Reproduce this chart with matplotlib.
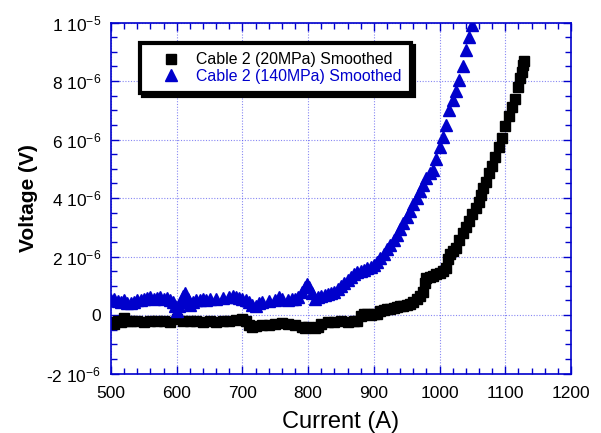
import matplotlib
matplotlib.use("Agg")
import matplotlib.pyplot as plt
from matplotlib.ticker import MultipleLocator, FixedLocator

plt.rcParams['font.family'] = ['Liberation Sans', 'DejaVu Sans']
plt.rcParams['mathtext.fontset'] = 'custom'
plt.rcParams['mathtext.rm'] = 'Liberation Sans'
plt.rcParams['mathtext.it'] = 'Liberation Sans'

# Cable 2 (20MPa) - corrente (A) e tensao (uV)
i_20 = [500, 505, 510, 515, 520, 525, 530, 540, 550, 560, 570, 580, 590, 600, 610, 620,
        630, 640, 650, 660, 670, 680, 690, 700, 705, 710, 715, 720, 730, 740, 750, 760,
        770, 780, 790, 795, 800, 810, 815, 820, 830, 840, 850, 860, 870, 875, 880, 885,
        890, 895, 900, 905, 910, 915, 920, 925, 930, 935, 940, 945, 950, 955, 960, 965,
        970, 975, 978, 980, 985, 990, 995, 1000, 1005, 1010, 1013, 1016, 1020, 1025, 1030,
        1035, 1040, 1045, 1050, 1055, 1060, 1063, 1066, 1070, 1075, 1080, 1085, 1090, 1095,
        1100, 1105, 1110, 1115, 1120, 1123, 1125, 1127, 1128]
v_20 = [-0.25, -0.3, -0.2, -0.25, -0.1, -0.2, -0.22, -0.2, -0.25, -0.2, -0.22, -0.2, -0.25,
        -0.15, -0.2, -0.22, -0.2, -0.25, -0.2, -0.25, -0.22, -0.2, -0.18, -0.15, -0.2, -0.35,
        -0.42, -0.38, -0.35, -0.35, -0.32, -0.28, -0.3, -0.35, -0.4, -0.45, -0.42, -0.45, -0.4,
        -0.3, -0.25, -0.25, -0.22, -0.25, -0.22, -0.2, -0.05, 0.05, 0.05, 0.0, 0.02, 0.05, 0.12,
        0.18, 0.2, 0.22, 0.25, 0.28, 0.3, 0.32, 0.35, 0.38, 0.45, 0.55, 0.65, 0.8, 1.1, 1.25,
        1.3, 1.35, 1.4, 1.45, 1.5, 1.6, 1.9, 2.1, 2.2, 2.3, 2.55, 2.8, 3.0, 3.2, 3.45, 3.65,
        3.85, 4.1, 4.35, 4.55, 4.85, 5.1, 5.4, 5.75, 6.05, 6.45, 6.8, 7.1, 7.4, 7.8, 8.1, 8.3,
        8.55, 8.7]

# Cable 2 (140MPa)
i_140 = [500, 505, 510, 515, 520, 525, 530, 535, 540, 545, 550, 555, 560, 565, 570, 575,
         580, 585, 590, 595, 598, 600, 603, 607, 610, 613, 617, 620, 625, 630, 635, 640,
         645, 650, 660, 670, 680, 685, 690, 695, 700, 705, 710, 715, 720, 725, 730, 740,
         750, 755, 760, 770, 775, 780, 785, 790, 795, 798, 802, 806, 810, 815, 820, 825,
         830, 835, 840, 845, 850, 855, 860, 865, 870, 875, 880, 885, 890, 895, 900, 905,
         910, 915, 920, 925, 930, 935, 940, 945, 950, 955, 960, 965, 970, 975, 980, 985,
         990, 995, 1000, 1005, 1010, 1015, 1020, 1025, 1030, 1035, 1040, 1045, 1050]
v_140 = [0.5, 0.55, 0.48, 0.45, 0.5, 0.42, 0.4, 0.45, 0.5, 0.52, 0.55, 0.58, 0.6, 0.55,
         0.58, 0.6, 0.55, 0.57, 0.5, 0.45, 0.3, 0.15, 0.3, 0.45, 0.65, 0.75, 0.55, 0.35,
         0.45, 0.5, 0.52, 0.55, 0.5, 0.55, 0.55, 0.58, 0.6, 0.65, 0.6, 0.58, 0.55, 0.5,
         0.45, 0.35, 0.32, 0.4, 0.45, 0.48, 0.52, 0.62, 0.55, 0.5, 0.55, 0.55, 0.62, 0.8,
         0.95, 1.05, 0.95, 0.75, 0.55, 0.6, 0.65, 0.7, 0.72, 0.75, 0.8, 0.9, 1.0, 1.08, 1.2,
         1.3, 1.4, 1.48, 1.52, 1.55, 1.6, 1.65, 1.72, 1.8, 1.95, 2.1, 2.25, 2.4, 2.55, 2.75,
         2.95, 3.15, 3.35, 3.55, 3.8, 4.0, 4.25, 4.45, 4.7, 4.85, 4.95, 5.35, 5.75, 6.1, 6.5,
         7.0, 7.35, 7.65, 8.05, 8.5, 9.05, 9.5, 9.9]

y_ticks = [-2e-6, 0, 2e-6, 4e-6, 6e-6, 8e-6, 1e-5]
y_labels = [r'-2 10$^{-6}$', '0', r'2 10$^{-6}$', r'4 10$^{-6}$', r'6 10$^{-6}$',
            r'8 10$^{-6}$', r'1 10$^{-5}$']

azul = '#0000cc'

fig = plt.figure(figsize=(6.01, 4.33), dpi=100)
ax = fig.add_axes([0.1847, 0.1374, 0.7654, 0.8106])

ax.plot(i_20, [v * 1e-6 for v in v_20], linestyle='none', marker='s', markersize=7.5,
        color='black', label='Cable 2 (20MPa) Smoothed')
ax.plot(i_140, [v * 1e-6 for v in v_140], linestyle='none', marker='^', markersize=8,
        color=azul, label='Cable 2 (140MPa) Smoothed')

ax.set_xlim(500, 1200)
ax.set_ylim(-2e-6, 1e-5)
ax.xaxis.set_major_locator(MultipleLocator(100))
ax.xaxis.set_minor_locator(MultipleLocator(20))
ax.yaxis.set_major_locator(FixedLocator(y_ticks))
ax.yaxis.set_minor_locator(MultipleLocator(0.5e-6))
ax.set_yticklabels(y_labels)

for s in ax.spines.values():
    s.set_color(azul)
    s.set_linewidth(1.2)
ax.tick_params(which='both', direction='in', top=True, right=True, colors=azul,
               labelcolor='black', labelsize=12.5)
ax.tick_params(which='major', length=6, width=1)
ax.tick_params(which='minor', length=4, width=1)
ax.tick_params(axis='x', pad=9)
ax.tick_params(axis='y', pad=7)

ax.grid(True, which='major', color='#5555ee', linestyle=(0, (1, 1.5)), linewidth=0.8,
        alpha=0.7)
ax.set_axisbelow(True)

ax.set_xlabel('Current (A)', fontsize=17, labelpad=7)
ax.set_ylabel('Voltage (V)', fontsize=15, fontweight='bold', labelpad=6)

leg = ax.legend(loc='upper left', bbox_to_anchor=(0.063, 0.942), borderaxespad=0,
                fancybox=False, shadow={'color': 'black', 'alpha': 1}, fontsize=11.4,
                handlelength=2.7, handletextpad=0.25, borderpad=0.6, labelspacing=0.1,
                framealpha=1)
leg.get_frame().set_edgecolor('black')
leg.get_frame().set_linewidth(3)
leg.get_texts()[1].set_color(azul)

plt.savefig('out.png', dpi=100)
